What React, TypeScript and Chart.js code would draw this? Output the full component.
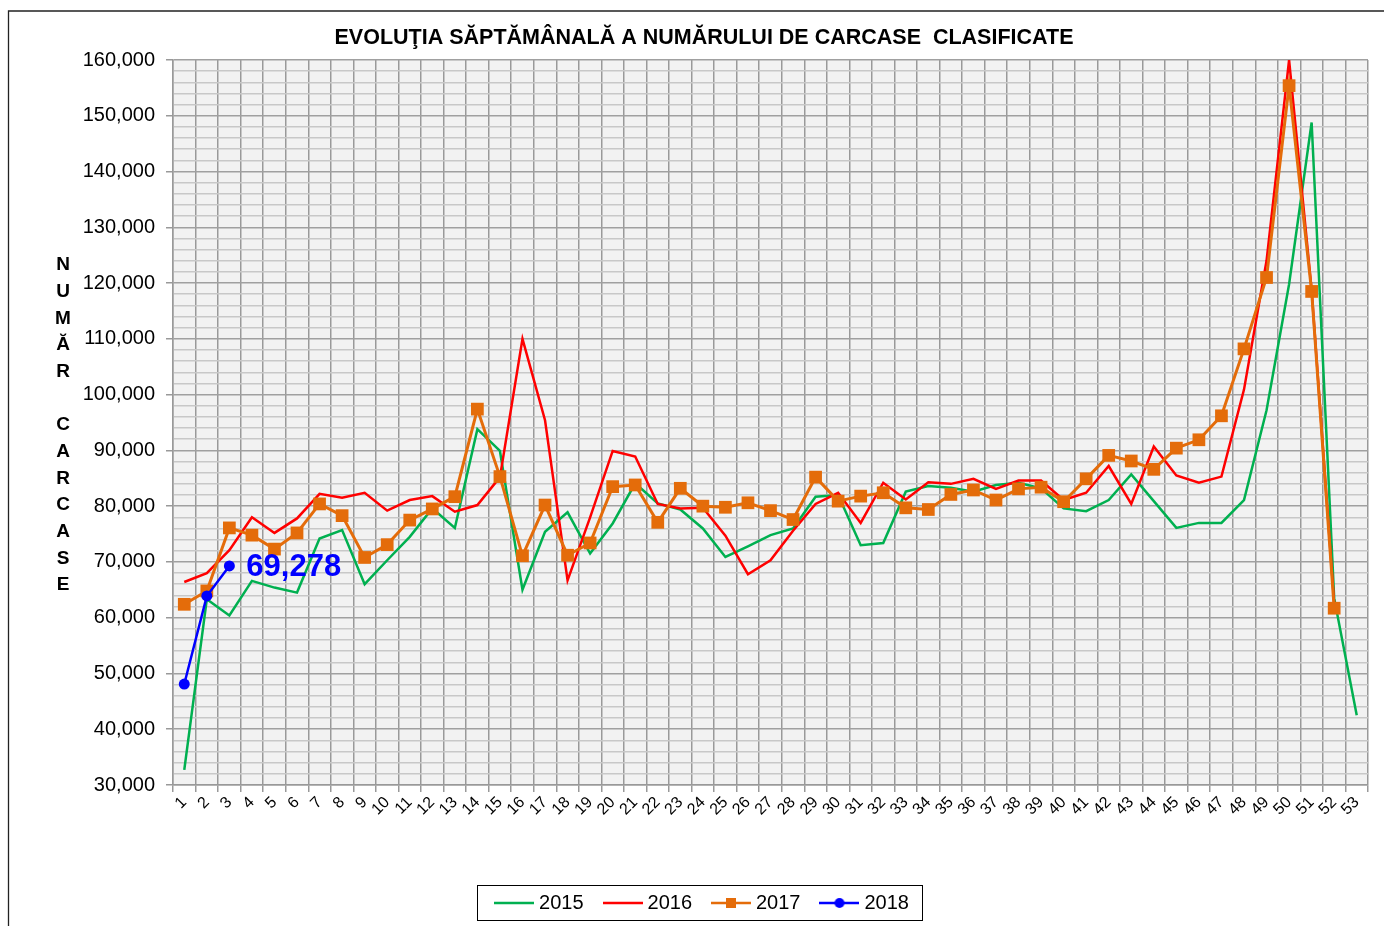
import React, { useEffect, useRef } from 'react';
import { Chart, registerables } from 'chart.js';

Chart.register(...registerables);

const FONT = 'Liberation Sans, Arial, sans-serif';

const weeks = ['1','2','3','4','5','6','7','8','9','10','11','12','13','14','15','16','17','18','19','20','21','22','23','24','25','26','27','28','29','30','31','32','33','34','35','36','37','38','39','40','41','42','43','44','45','46','47','48','49','50','51','52','53'];

const seriesLabels = ['2015', '2016', '2017', '2018'];
const seriesColors = ['#00B050', '#FF0000', '#E46C0A', '#0000FF'];

const data2015 = [32700, 63300, 60400, 66600, 65400, 64500, 74200, 75700, 66000, 70300, 74500, 79600, 76100, 93800, 89900, 65000, 75400, 78900, 71500, 76900, 84100, 80500, 79400, 76000, 70900, 72800, 74800, 76000, 81700, 82000, 73000, 73400, 82600, 83600, 83300, 82600, 83800, 84200, 83200, 79600, 79100, 81100, 85700, 80900, 76100, 77000, 77000, 81100, 97200, 119800, 148800, 63500, 42500];
const data2016 = [66400, 68000, 72100, 78000, 75200, 77800, 82200, 81500, 82400, 79200, 81100, 81800, 79000, 80200, 85200, 110000, 95400, 66700, 78000, 89900, 88900, 80400, 79600, 79700, 74700, 67800, 70300, 75600, 80400, 82400, 77000, 84200, 81200, 84300, 84000, 84900, 83100, 84600, 84600, 81100, 82400, 87200, 80400, 90700, 85500, 84200, 85300, 100900, 124000, 160000, 118800, 62500, null];
const data2017 = [62400, 64800, 76100, 74800, 72300, 75200, 80400, 78300, 70800, 73100, 77500, 79500, 81700, 97400, 85300, 71100, 80200, 71200, 73400, 83500, 83800, 77100, 83200, 80000, 79800, 80600, 79200, 77600, 85200, 80900, 81800, 82400, 79700, 79400, 82100, 82900, 81100, 83100, 83400, 80800, 84900, 89100, 88100, 86600, 90400, 91900, 96200, 108200, 121000, 155400, 118500, 61700, null];
const data2018 = [48100, 63900, 69278];

const titleText = 'EVOLUŢIA SĂPTĂMÂNALĂ A NUMĂRULUI DE CARCASE  CLASIFICATE';
const yTitleLetters = ['N', 'U', 'M', 'Ă', 'R', '', 'C', 'A', 'R', 'C', 'A', 'S', 'E'];

function makeLegendImage(color: string, marker: 'none' | 'rect' | 'circle') {
  const c = document.createElement('canvas');
  c.width = 40;
  c.height = 14;
  const g = c.getContext('2d')!;
  g.strokeStyle = color;
  g.lineWidth = 2.5;
  g.beginPath();
  g.moveTo(0, 7);
  g.lineTo(40, 7);
  g.stroke();
  g.fillStyle = color;
  if (marker === 'rect') {
    g.fillRect(15, 2, 10, 10);
  } else if (marker === 'circle') {
    g.beginPath();
    g.arc(20, 7, 5, 0, Math.PI * 2);
    g.fill();
  }
  return c;
}

const decorPlugin = {
  id: 'decor',
  beforeDraw(chart: any) {
    const { ctx, chartArea } = chart;
    ctx.save();
    ctx.fillStyle = '#ffffff';
    ctx.fillRect(0, 0, chart.width, chart.height);
    ctx.fillStyle = '#f2f2f2';
    ctx.fillRect(chartArea.left, chartArea.top, chartArea.right - chartArea.left, chartArea.bottom - chartArea.top);
    ctx.restore();
  },
  afterDraw(chart: any) {
    const { ctx } = chart;
    ctx.save();
    // outer frame
    ctx.strokeStyle = '#222';
    ctx.lineWidth = 1.3;
    ctx.beginPath();
    ctx.moveTo(8.5, chart.height);
    ctx.lineTo(8.5, 11);
    ctx.lineTo(chart.width, 11);
    ctx.stroke();

    // stacked y title
    ctx.fillStyle = '#000';
    ctx.font = `bold 19px ${FONT}`;
    ctx.textAlign = 'center';
    ctx.textBaseline = 'middle';
    yTitleLetters.forEach((ch, i) => {
      if (ch) ctx.fillText(ch, 63, 265 + i * 26.67);
    });

    // data label for last 2018 point
    const meta = chart.getDatasetMeta(3);
    const last = data2018.length - 1;
    const pt = meta.data[last];
    if (pt) {
      ctx.fillStyle = '#0000FF';
      ctx.font = `bold 31px ${FONT}`;
      ctx.textAlign = 'left';
      ctx.textBaseline = 'middle';
      ctx.fillText(data2018[last].toLocaleString('en-US'), pt.x + 17, pt.y + 2);
    }

    // legend frame
    const lg = chart.legend;
    if (lg && lg.legendHitBoxes && lg.legendHitBoxes.length) {
      const hb = lg.legendHitBoxes;
      const first = hb[0];
      const lastHb = hb[hb.length - 1];
      const left = first.left - 22;
      const right = lastHb.left + lastHb.width + 13;
      const top = first.top - 8;
      const bottom = first.top + 27;
      ctx.strokeStyle = '#000';
      ctx.lineWidth = 1;
      ctx.strokeRect(Math.round(left) + 0.5, Math.round(top) + 0.5, Math.round(right - left), Math.round(bottom - top));
    }
    ctx.restore();
  },
};

export default function App() {
  const ref = useRef<HTMLCanvasElement | null>(null);

  useEffect(() => {
    if (!ref.current) return;
    const legendImgs = [
      makeLegendImage(seriesColors[0], 'none'),
      makeLegendImage(seriesColors[1], 'none'),
      makeLegendImage(seriesColors[2], 'rect'),
      makeLegendImage(seriesColors[3], 'circle'),
    ];
    const chart = new Chart(ref.current, {
      type: 'line',
      data: {
        labels: weeks,
        datasets: [
          { label: seriesLabels[0], data: data2015, borderColor: seriesColors[0], backgroundColor: seriesColors[0], borderWidth: 2.5, pointRadius: 0, order: 4 },
          { label: seriesLabels[1], data: data2016, borderColor: seriesColors[1], backgroundColor: seriesColors[1], borderWidth: 2.5, pointRadius: 0, order: 3 },
          { label: seriesLabels[2], data: data2017, borderColor: seriesColors[2], backgroundColor: seriesColors[2], borderWidth: 3, pointStyle: 'rect', pointRadius: 9, pointBorderWidth: 0, order: 2 },
          { label: seriesLabels[3], data: data2018, borderColor: seriesColors[3], backgroundColor: seriesColors[3], borderWidth: 2.5, pointStyle: 'circle', pointRadius: 5.5, pointBorderWidth: 0, order: 1 },
        ] as any,
      },
      options: {
        responsive: false,
        animation: false,
        events: [],
        layout: { padding: { left: 40, right: 16, top: 0, bottom: 3 } },
        elements: { line: { tension: 0 } },
        plugins: {
          tooltip: { enabled: false },
          title: {
            display: true,
            text: titleText,
            color: '#000',
            font: { family: FONT, size: 21.5, weight: 'bold', lineHeight: 1.2 },
            padding: { top: 25, bottom: 9.2 },
          },
          legend: {
            display: true,
            position: 'bottom',
            labels: {
              usePointStyle: true,
              pointStyleWidth: 30,
              padding: 24,
              color: '#000',
              font: { family: FONT, size: 20 },
              generateLabels: () =>
                seriesLabels.map((t, i) => ({
                  text: t,
                  pointStyle: legendImgs[i] as any,
                  fillStyle: seriesColors[i],
                  strokeStyle: seriesColors[i],
                  lineWidth: 0,
                  hidden: false,
                  datasetIndex: i,
                  fontColor: '#000',
                })),
            },
          },
        },
        scales: {
          x: {
            type: 'category',
            offset: true,
            grid: { offset: true, color: '#999', lineWidth: 1.5, tickLength: 7, tickColor: '#999' },
            border: { color: '#999', width: 1.5 },
            ticks: { autoSkip: false, maxRotation: 45, minRotation: 45, padding: 1, color: '#000', font: { family: FONT, size: 16 } },
            afterFit: (s: any) => { s.height = 84; },
          },
          y: {
            min: 30000,
            max: 160000,
            grid: {
              color: (c: any) => (c.tick && c.tick.value % 10000 === 0 ? '#a0a0a0' : '#c8c8c8'),
              lineWidth: 1.5,
              tickLength: 7,
              tickColor: (c: any) => (c.tick && c.tick.value % 10000 === 0 ? '#999' : 'rgba(0,0,0,0)'),
            },
            border: { color: '#999', width: 1.5 },
            ticks: {
              stepSize: 2000,
              autoSkip: false,
              padding: 11,
              color: '#000',
              font: { family: FONT, size: 20 },
              callback: (v: any) => (Number(v) % 10000 === 0 ? Number(v).toLocaleString('en-US') : ''),
            },
            afterFit: (s: any) => { s.width = 133; },
          },
        },
      } as any,
      plugins: [decorPlugin],
    });
    return () => chart.destroy();
  }, []);

  return (
    <div style={{ position: 'absolute', left: 0, top: 0, width: 1384, height: 926, background: '#fff' }}>
      <canvas ref={ref} width={1384} height={926} style={{ display: 'block', width: 1384, height: 926 }} />
    </div>
  );
}
